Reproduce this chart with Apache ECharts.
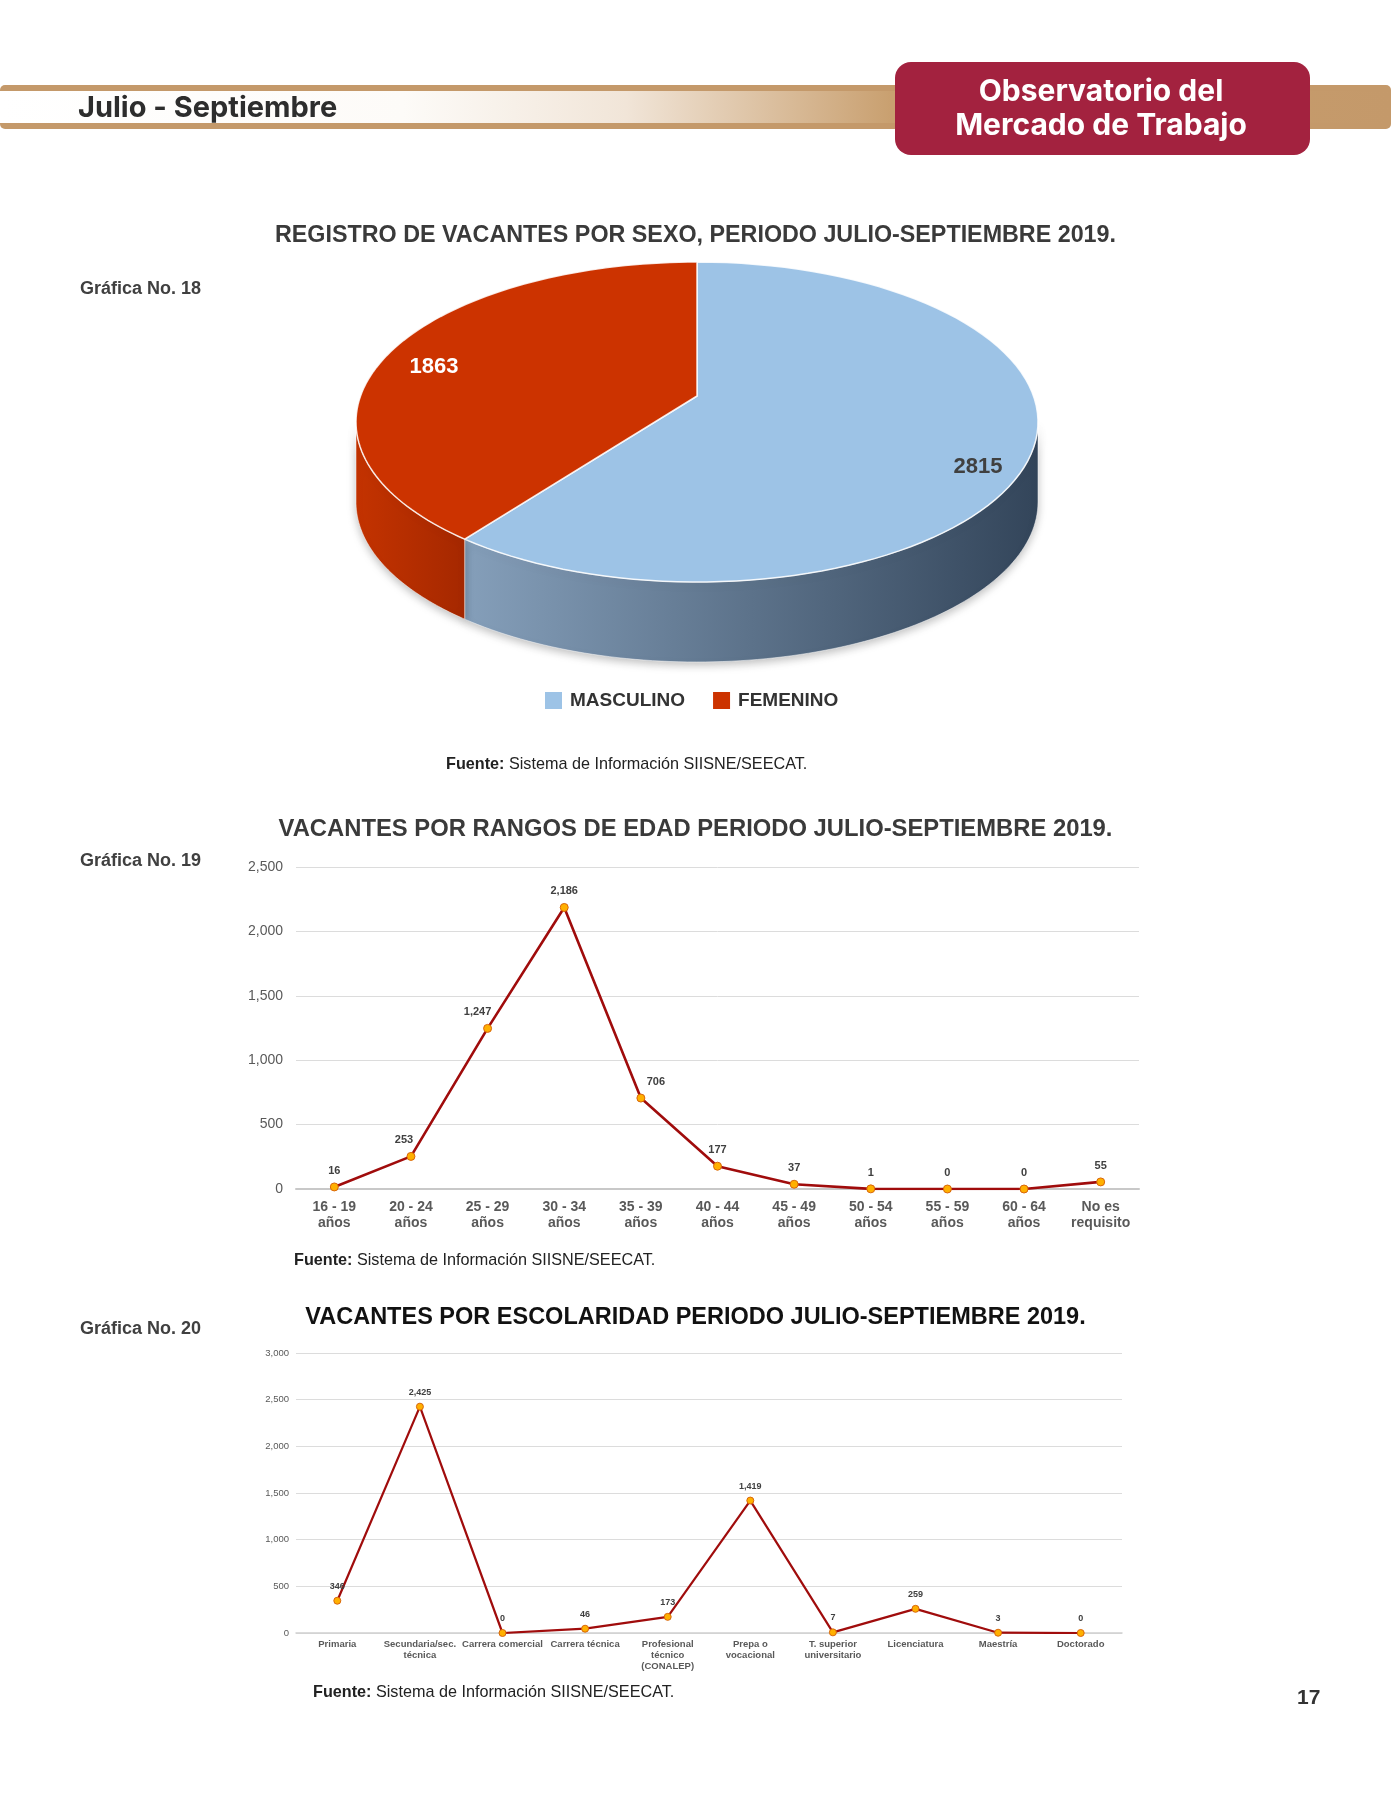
<!DOCTYPE html>
<html>
<head>
<meta charset="utf-8">
<title>Vacantes julio-septiembre 2019</title>
<script src="https://cdn.jsdelivr.net/npm/echarts@6/dist/echarts.min.js"></script>
<style>
    html, body { margin: 0; padding: 0; background: #fff; }
    #page { width: 1391px; height: 1800px; }
</style>
</head>
<body>
<div id="page"></div>
<script>
// Grafica 18: vacantes por sexo
var sexNames = ['MASCULINO', 'FEMENINO'];
var sexValues = [2815, 1863];

// Grafica 19: vacantes por rangos de edad
var ageCategories = ['16 - 19\naños', '20 - 24\naños', '25 - 29\naños', '30 - 34\naños', '35 - 39\naños',
    '40 - 44\naños', '45 - 49\naños', '50 - 54\naños', '55 - 59\naños', '60 - 64\naños', 'No es\nrequisito'];
var ageValues = [16, 253, 1247, 2186, 706, 177, 37, 1, 0, 0, 55];
var ageTicks = { min: 0, max: 2500, interval: 500 };

// Grafica 20: vacantes por escolaridad
var eduCategories = ['Primaria', 'Secundaria/sec.\ntécnica', 'Carrera comercial', 'Carrera técnica',
    'Profesional\ntécnico\n(CONALEP)', 'Prepa o\nvocacional', 'T. superior\nuniversitario',
    'Licenciatura', 'Maestría', 'Doctorado'];
var eduValues = [346, 2425, 0, 46, 173, 1419, 7, 259, 3, 0];
var eduTicks = { min: 0, max: 3000, interval: 500 };

var FONT = '"Liberation Sans", Arial, sans-serif';
var HEAD_FONT = 'Inter, "Open Sans", sans-serif';
var topColors = ['#9dc3e6', '#cc3300'];
var sideColors = [['#859fba', '#33455a'], ['#c43300', '#a52800']];
var labelColors = ['#404040', '#ffffff'];

// pie geometry (flattened 3D look)
var PIE = { cx: 697, cy: 422, rx: 341, ry: 160, depth: 80, lift: 26, warp: 0.115 };

// nudges so the age labels sit beside the steep line, like the original
var ageLabelNudge = { 1: [-7, 0], 2: [-10, 0], 4: [15, 0] };

function fmt(v) {
    return Number(v).toLocaleString('en-US');
}

// perspective-like angle warp: front of the pie gets a bit wider
function warp(t) {
    return t + PIE.warp * Math.sin(2 * t);
}

function pieSeries(idx) {
    var total = 0, before = 0;
    for (var i = 0; i < sexValues.length; i++) {
        total += sexValues[i];
        if (i < idx) before += sexValues[i];
    }
    return {
        type: 'custom',
        name: sexNames[idx],
        coordinateSystem: 'none',
        itemStyle: { color: topColors[idx] },
        data: [[before, sexValues[idx], total]],
        renderItem: function (params, api) {
            var t0 = api.value(0) / api.value(2) * Math.PI * 2;
            var t1 = (api.value(0) + api.value(1)) / api.value(2) * Math.PI * 2;
            var a0 = warp(t0), a1 = warp(t1);
            var pt = function (a, dy) {
                return [PIE.cx + PIE.rx * Math.sin(a), PIE.cy - PIE.ry * Math.cos(a) + (dy || 0)];
            };
            var N = 90, k, a;
            var children = [];
            // front wall
            var s0 = Math.max(a0, Math.PI / 2), s1 = Math.min(a1, Math.PI * 1.5);
            if (s1 > s0) {
                var up = [], down = [];
                for (k = 0; k <= N; k++) {
                    a = s0 + (s1 - s0) * k / N;
                    up.push(pt(a));
                    down.unshift(pt(a, PIE.depth));
                }
                children.push({
                    type: 'polygon',
                    shape: { points: up.concat(down) },
                    style: {
                        fill: {
                            type: 'linear', x: 0, y: 0, x2: 1, y2: 0,
                            colorStops: [{ offset: 0, color: sideColors[idx][0] }, { offset: 1, color: sideColors[idx][1] }]
                        },
                        stroke: 'rgba(255,255,255,0.5)',
                        lineWidth: 1,
                        shadowColor: 'rgba(0,0,0,0.25)',
                        shadowBlur: 8,
                        shadowOffsetY: 3
                    }
                });
            }
            // top face
            var pts = [[PIE.cx, PIE.cy - PIE.lift]];
            for (k = 0; k <= N; k++) {
                a = a0 + (a1 - a0) * k / N;
                pts.push(pt(a));
            }
            children.push({
                type: 'polygon',
                shape: { points: pts },
                style: { fill: topColors[idx], stroke: 'rgba(255,255,255,0.85)', lineWidth: 1.5 }
            });
            // value label
            var mid = (t0 + t1) / 2;
            children.push({
                type: 'text',
                style: {
                    text: String(api.value(1)),
                    x: PIE.cx + PIE.rx * Math.sin(mid) * 0.84 + 9,
                    y: PIE.cy - PIE.ry * Math.cos(mid) - 5,
                    fill: labelColors[idx],
                    font: 'bold 22px ' + FONT,
                    align: 'center',
                    verticalAlign: 'middle'
                }
            });
            return { type: 'group', children: children };
        }
    };
}

function lineSeries(name, gridIdx, values, lineWidth, symbolSize, labelSize, nudge) {
    var data = values.map(function (v, i) {
        var item = { value: v };
        if (nudge && nudge[i]) item.label = { offset: nudge[i] };
        return item;
    });
    return {
        type: 'line',
        name: name,
        xAxisIndex: gridIdx,
        yAxisIndex: gridIdx,
        data: data,
        symbol: 'circle',
        symbolSize: symbolSize,
        lineStyle: { color: '#a00c0c', width: lineWidth },
        itemStyle: { color: '#ffb000', borderColor: '#d9660b', borderWidth: 1 },
        label: {
            show: true,
            position: 'top',
            distance: 6,
            fontFamily: FONT,
            fontWeight: 'bold',
            fontSize: labelSize,
            color: '#404040',
            formatter: function (p) { return fmt(p.value); }
        },
        z: 3
    };
}

var titleStyle = { fontFamily: FONT, fontSize: 23.3, fontWeight: 'bold', color: '#3a3a3a' };
var sideLabel = { fontFamily: FONT, fontSize: 18, fontWeight: 'bold', color: '#404040' };
var fuenteStyle = {
    fontFamily: FONT, fontSize: 16.2, fontWeight: 'normal', color: '#222',
    rich: { b: { fontFamily: FONT, fontSize: 16.2, fontWeight: 'bold', color: '#222' } }
};

var option = {
    animation: false,
    backgroundColor: '#ffffff',
    title: [
        { text: 'REGISTRO DE VACANTES POR SEXO, PERIODO JULIO-SEPTIEMBRE 2019.', left: 'center', top: 224, padding: 0, textStyle: titleStyle },
        { text: 'VACANTES POR RANGOS DE EDAD PERIODO JULIO-SEPTIEMBRE 2019.', left: 'center', top: 817, padding: 0,
          textStyle: { fontFamily: FONT, fontSize: 23.8, fontWeight: 'bold', color: '#3a3a3a' } },
        { text: 'VACANTES POR ESCOLARIDAD PERIODO JULIO-SEPTIEMBRE 2019.', left: 'center', top: 1306, padding: 0,
          textStyle: { fontFamily: FONT, fontSize: 23.5, fontWeight: 'bold', color: '#111' } },
        { text: 'Gráfica No. 18', left: 80, top: 280, padding: 0, textStyle: sideLabel },
        { text: 'Gráfica No. 19', left: 80, top: 852, padding: 0, textStyle: sideLabel },
        { text: 'Gráfica No. 20', left: 80, top: 1320, padding: 0, textStyle: sideLabel },
        { text: '{b|Fuente:} Sistema de Información SIISNE/SEECAT.', left: 446, top: 757, padding: 0, textStyle: fuenteStyle },
        { text: '{b|Fuente:} Sistema de Información SIISNE/SEECAT.', left: 294, top: 1253, padding: 0, textStyle: fuenteStyle },
        { text: '{b|Fuente:} Sistema de Información SIISNE/SEECAT.', left: 313, top: 1685, padding: 0, textStyle: fuenteStyle },
        { text: '17', left: 1297, top: 1688, padding: 0, textStyle: { fontFamily: FONT, fontSize: 21, fontWeight: 'bold', color: '#333' } }
    ],
    legend: {
        data: sexNames,
        left: 545,
        top: 691,
        padding: 0,
        icon: 'rect',
        itemWidth: 17,
        itemHeight: 17,
        itemGap: 28,
        selectedMode: false,
        textStyle: { fontFamily: FONT, fontSize: 19, fontWeight: 'bold', color: '#333', padding: [0, 0, 0, 3] }
    },
    graphic: [
        { type: 'rect', shape: { x: 0, y: 85, width: 1391, height: 44, r: 5 }, style: { fill: '#c4996a' } },
        { type: 'rect', shape: { x: 0, y: 91, width: 1391, height: 32 },
          style: { fill: new echarts.graphic.LinearGradient(0, 0, 1, 0, [
              { offset: 0, color: '#ffffff' }, { offset: 0.29, color: '#fdfbf8' },
              { offset: 0.45, color: '#f1e5d8' }, { offset: 0.64, color: '#c9a070' }, { offset: 1, color: '#c4996a' }]) } },
        { type: 'text', x: 78, y: 108, style: { text: 'Julio - Septiembre', font: 'bold 29px ' + HEAD_FONT, fill: '#2d2d2d', verticalAlign: 'middle' } },
        { type: 'rect', shape: { x: 895, y: 62, width: 415, height: 93, r: 16 }, style: { fill: '#a3223f' } },
        { type: 'text', x: 1101, y: 92, style: { text: 'Observatorio del', font: 'bold 30px ' + HEAD_FONT, fill: '#fff', align: 'center', verticalAlign: 'middle' } },
        { type: 'text', x: 1101, y: 126, style: { text: 'Mercado de Trabajo', font: 'bold 30px ' + HEAD_FONT, fill: '#fff', align: 'center', verticalAlign: 'middle' } }
    ],
    grid: [
        { left: 296, right: 252, top: 867, bottom: 611 },
        { left: 296, right: 269, top: 1353, bottom: 167 }
    ],
    xAxis: [
        {
            gridIndex: 0, type: 'category', data: ageCategories, boundaryGap: true,
            axisTick: { show: false },
            axisLine: { lineStyle: { color: '#c8c8c8', width: 2 } },
            axisLabel: { interval: 0, margin: 10, fontFamily: FONT, fontSize: 14, fontWeight: 'bold', color: '#595959', lineHeight: 16 }
        },
        {
            gridIndex: 1, type: 'category', data: eduCategories, boundaryGap: true,
            axisTick: { show: false },
            axisLine: { lineStyle: { color: '#d0d0d0', width: 1.5 } },
            axisLabel: { interval: 0, margin: 6, fontFamily: FONT, fontSize: 9.5, fontWeight: 'bold', color: '#595959', lineHeight: 11 }
        }
    ],
    yAxis: [
        {
            gridIndex: 0, type: 'value', min: ageTicks.min, max: ageTicks.max, interval: ageTicks.interval,
            axisLine: { show: false }, axisTick: { show: false },
            splitLine: { lineStyle: { color: '#dcdcdc', width: 1 } },
            axisLabel: { margin: 13, fontFamily: FONT, fontSize: 14, color: '#595959', formatter: fmt }
        },
        {
            gridIndex: 1, type: 'value', min: eduTicks.min, max: eduTicks.max, interval: eduTicks.interval,
            axisLine: { show: false }, axisTick: { show: false },
            splitLine: { lineStyle: { color: '#dcdcdc', width: 1 } },
            axisLabel: { margin: 7, fontFamily: FONT, fontSize: 9.5, color: '#595959', formatter: fmt }
        }
    ],
    series: [
        pieSeries(0),
        pieSeries(1),
        lineSeries('Edad', 0, ageValues, 2.6, 8, 11, ageLabelNudge),
        lineSeries('Escolaridad', 1, eduValues, 2.2, 7, 9)
    ]
};

var chart = echarts.init(document.getElementById('page'), null, { renderer: 'canvas', width: 1391, height: 1800 });
chart.setOption(option);
</script>
</body>
</html>
